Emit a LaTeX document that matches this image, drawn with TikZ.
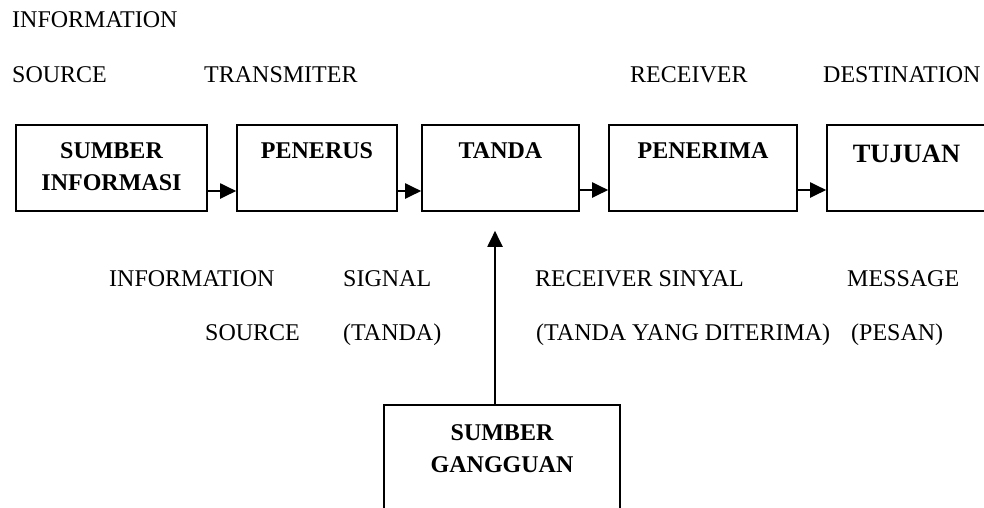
\documentclass[tikz,border=0pt]{standalone}
\usepackage{fontspec}
\setmainfont{Liberation Serif}
\usetikzlibrary{arrows.meta}
\begin{document}
\begin{tikzpicture}[x=1pt,y=-1pt,
  box/.style={draw=black,line width=1.6pt,minimum height=86pt,inner sep=0pt},
  lbl/.style={inner sep=0pt,anchor=base west,font=\fontsize{24}{28}\selectfont},
  blbl/.style={inner sep=0pt,anchor=base,font=\fontsize{24}{28}\selectfont\bfseries},
  arr/.style={line width=2pt,-{Triangle[length=16pt,width=15pt]}}]
\useasboundingbox (0,0) rectangle (984,507);
% boxes
\node[box,minimum width=191pt] (b1) at (111.5,168) {};
\node[box,minimum width=160pt] (b2) at (317,168) {};
\node[box,minimum width=157pt] (b3) at (500.5,168) {};
\node[box,minimum width=188pt] (b4) at (703,168) {};
\node[box,minimum width=159pt] (b5) at (906.5,168) {};
\node[box,minimum width=236pt,minimum height=115pt] (g) at (502,462.5) {};
% box texts
\node[blbl] (t1a) at (111.5,158) {SUMBER};
\node[blbl] (t1b) at (111.5,190) {INFORMASI};
\node[blbl] (t2) at (317,158) {PENERUS};
\node[blbl] (t3) at (500.5,158) {TANDA};
\node[blbl] (t4) at (703,158) {PENERIMA};
\node[blbl,font=\fontsize{26.5}{30}\selectfont\bfseries] (t5) at (906.5,162) {TUJUAN};
\node[blbl] (tga) at (502,440) {SUMBER};
\node[blbl] (tgb) at (502,472) {GANGGUAN};
% top labels
\node[lbl] (l1) at (12,27) {INFORMATION};
\node[lbl] (l2) at (12,82) {SOURCE};
\node[lbl] (l3) at (204,82) {TRANSMITER};
\node[lbl] (l4) at (630,82) {RECEIVER};
\node[lbl] (l5) at (823,82) {DESTINATION};
% middle labels
\node[lbl] (m1) at (109,286) {INFORMATION};
\node[lbl] (m2) at (343,286) {SIGNAL};
\node[lbl] (m3) at (535,286) {RECEIVER SINYAL};
\node[lbl] (m4) at (847,286) {MESSAGE};
\node[lbl] (n1) at (205,340) {SOURCE};
\node[lbl] (n2) at (343,340) {(TANDA)};
\node[lbl] (n3) at (536,340) {(TANDA YANG DITERIMA)};
\node[lbl] (n4) at (851,340) {(PESAN)};
% connectors
\draw[arr] ([yshift=-23pt]b1.east) -- ([yshift=-23pt]b2.west);
\draw[arr] ([yshift=-23pt]b2.east) -- ([yshift=-23pt]b3.west);
\draw[arr] ([yshift=-22pt]b3.east) -- ([yshift=-22pt]b4.west);
\draw[arr] ([yshift=-22pt]b4.east) -- ([yshift=-22pt]b5.west);
\draw[arr] ([xshift=-7pt]g.north) -- ([xshift=-5.5pt,yshift=-19pt]b3.south);
\end{tikzpicture}
\end{document}
